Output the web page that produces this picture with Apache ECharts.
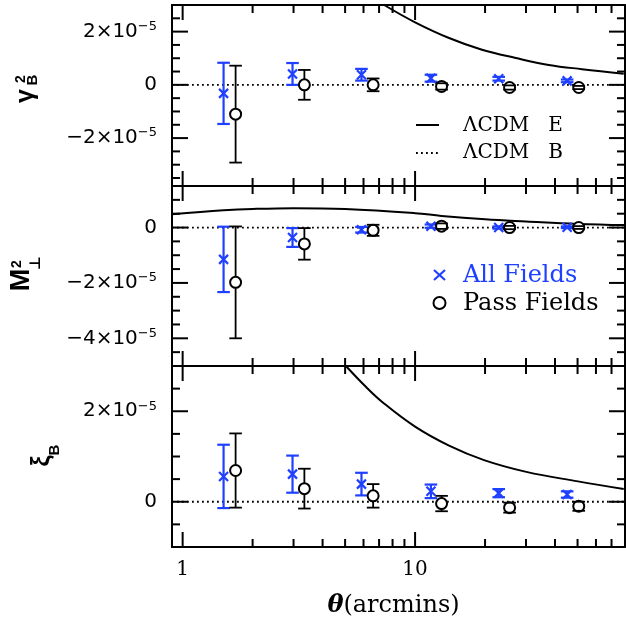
<!DOCTYPE html>
<html><head><meta charset="utf-8">
<script src="https://cdn.jsdelivr.net/npm/echarts@6/dist/echarts.min.js"></script>
<style>html,body{margin:0;padding:0;background:#fff}#c{width:626px;height:627px}</style>
</head><body><div id="c"></div>
<script>
// ---------------- data ----------------
const thetaAll  = [1.50, 2.97, 5.88, 11.7, 22.9, 45.1];
const thetaPass = [1.69, 3.34, 6.60, 13.0, 25.5, 50.6];

const gammaAll     = [-0.32e-5, 0.41e-5, 0.38e-5, 0.25e-5, 0.23e-5, 0.15e-5];
const gammaAllErr  = [ 1.15e-5, 0.41e-5, 0.22e-5, 0.13e-5, 0.07e-5, 0.05e-5];
const gammaPass    = [-1.10e-5, 0.00,    0.00,   -0.06e-5,-0.10e-5,-0.10e-5];
const gammaPassErr = [ 1.82e-5, 0.56e-5, 0.24e-5, 0.12e-5, 0.08e-5, 0.06e-5];

const mapAll     = [-1.15e-5,-0.36e-5,-0.08e-5, 0.05e-5, 0.00, 0.01e-5];
const mapAllErr  = [ 1.18e-5, 0.34e-5, 0.10e-5, 0.06e-5, 0.04e-5, 0.03e-5];
const mapPass    = [-1.98e-5,-0.59e-5,-0.10e-5, 0.05e-5, 0.00, 0.00];
const mapPassErr = [ 2.02e-5, 0.57e-5, 0.20e-5, 0.10e-5, 0.06e-5, 0.05e-5];

const xiAll     = [0.56e-5, 0.61e-5, 0.39e-5, 0.23e-5, 0.19e-5, 0.16e-5];
const xiAllErr  = [0.70e-5, 0.41e-5, 0.25e-5, 0.15e-5, 0.09e-5, 0.07e-5];
const xiPass    = [0.69e-5, 0.29e-5, 0.13e-5,-0.04e-5,-0.13e-5,-0.10e-5];
const xiPassErr = [0.82e-5, 0.44e-5, 0.26e-5, 0.17e-5, 0.11e-5, 0.10e-5];

// LCDM E-mode model curves
const gammaModelTheta = [7.36, 10, 14.0, 19.4, 27.1, 37.6, 52.2, 79];
const gammaModel      = [3.0e-5, 2.35e-5, 1.76e-5, 1.32e-5, 1.01e-5, 0.75e-5, 0.59e-5, 0.42e-5];
const mapModelTheta = [0.9, 1.5, 2, 3, 5, 10, 13, 20, 30, 50, 80];
const mapModel      = [0.48e-5, 0.62e-5, 0.67e-5, 0.70e-5, 0.67e-5, 0.52e-5, 0.42e-5, 0.30e-5, 0.22e-5, 0.13e-5, 0.09e-5];
const xiModelTheta = [5.04, 6.14, 7.24, 10, 14, 19.8, 30.1, 50.2, 79];
const xiModel      = [3.0e-5, 2.54e-5, 2.2e-5, 1.66e-5, 1.24e-5, 0.92e-5, 0.66e-5, 0.45e-5, 0.28e-5];
// LCDM B-mode model (zero)
const bModelTheta = [0.9, 80];
const bModel      = [0, 0];

// axis ticks
const xMajorTicks = [1, 10];
const xTickLabels = ['1', '10'];
const xMinorTicks = [2, 3, 4, 5, 6, 7, 8, 9, 20, 30, 40, 50, 60, 70];

const gammaTicks      = [-2e-5, 0, 2e-5];
const gammaTickLabels = ['−2×10⁻⁵', '0', '2×10⁻⁵'];
const gammaMinor      = [-3.5e-5, -3e-5, -2.5e-5, -1.5e-5, -1e-5, -0.5e-5, 0.5e-5, 1e-5, 1.5e-5, 2.5e-5];
const mapTicks      = [-4e-5, -2e-5, 0];
const mapTickLabels = ['−4×10⁻⁵', '−2×10⁻⁵', '0'];
const mapMinor      = [-4.5e-5, -3.5e-5, -3e-5, -2.5e-5, -1.5e-5, -1e-5, -0.5e-5, 0.5e-5, 1e-5];
const xiTicks      = [0, 2e-5];
const xiTickLabels = ['0', '2×10⁻⁵'];
const xiMinor      = [-0.5e-5, 0.5e-5, 1e-5, 1.5e-5, 2.5e-5];

// ---------------- chart ----------------
const BLUE = '#1f40ff';
const SUPS = '⁰¹²³⁴⁵⁶⁷⁸⁹';
function richSci(s) {
  const m = s.match(/^(.*?)([⁻⁰¹²³⁴⁵⁶⁷⁸⁹]+)$/);
  if (!m) return '{m|' + s + '}';
  const sup = m[2].replace(/⁻/g, '−').replace(/[⁰¹²³⁴⁵⁶⁷⁸⁹]/g, c => String(SUPS.indexOf(c)));
  return '{m|' + m[1] + '}{s|' + sup + '}';
}
function labelFor(v, vals, labels) {
  let best = -1, bd = Infinity;
  vals.forEach((t, i) => { const d = Math.abs(t - v); if (d < bd) { bd = d; best = i; } });
  return bd < 1e-9 ? richSci(labels[best]) : '';
}
const richY = {
  m: { fontFamily: 'DejaVu Sans', fontSize: 20, color: '#000', lineHeight: 23 },
  s: { fontFamily: 'DejaVu Sans', fontSize: 13, color: '#000', lineHeight: 12, verticalAlign: 'top' }
};

const grids = [
  { left: 172, top: 5,   width: 453, height: 181 },
  { left: 172, top: 186, width: 453, height: 180 },
  { left: 172, top: 366, width: 453, height: 181 }
];
const yRanges = [[-3.8e-5, 3.0e-5], [-5.0e-5, 1.5e-5], [-1.0e-5, 3.0e-5]];
const yTickSets = [[gammaTicks, gammaTickLabels], [mapTicks, mapTickLabels], [xiTicks, xiTickLabels]];
const yMinorSets = [gammaMinor, mapMinor, xiMinor];

const axisLine = { show: true, onZero: false, lineStyle: { color: '#000', width: 2 } };
const serif = 'DejaVu Serif';
const xAxes = [], yAxes = [];
grids.forEach((g, i) => {
  xAxes.push({
    type: 'log', logBase: 10, gridIndex: i, position: 'bottom', min: 0.9, max: 80,
    axisLine, axisTick: { show: false }, splitLine: { show: false },
    axisLabel: i === 2 ? {
      show: true, margin: 13, color: '#000', fontFamily: serif, fontSize: 20,
      showMinLabel: false, showMaxLabel: false,
      formatter: v => { const k = xMajorTicks.findIndex(t => Math.abs(t - v) < 1e-6 * t); return k >= 0 ? xTickLabels[k] : ''; }
    } : { show: false },
    name: i === 2 ? '{t|θ}{r|(arcmins)}' : '',
    nameLocation: 'middle', nameGap: 47,
    nameTextStyle: {
      padding: [0, 10, 0, 0],
      rich: {
        t: { fontFamily: serif, fontStyle: 'italic', fontWeight: 'bold', fontSize: 24, color: '#000' },
        r: { fontFamily: serif, fontSize: 24, color: '#000' }
      }
    }
  });
  xAxes.push({
    type: 'log', logBase: 10, gridIndex: i, position: 'top', min: 0.9, max: 80,
    axisLine, axisTick: { show: false }, splitLine: { show: false }, axisLabel: { show: false }
  });
  const [tv, tl] = yTickSets[i];
  yAxes.push({
    type: 'value', gridIndex: i, position: 'left', min: yRanges[i][0], max: yRanges[i][1],
    axisLine, axisTick: { show: false }, splitLine: { show: false },
    axisLabel: { show: true, margin: 15, customValues: tv, formatter: v => labelFor(v, tv, tl), rich: richY }
  });
  yAxes.push({
    type: 'value', gridIndex: i, position: 'right', min: yRanges[i][0], max: yRanges[i][1],
    axisLine, axisTick: { show: false }, splitLine: { show: false }, axisLabel: { show: false }
  });
});

function lineEl(x1, y1, x2, y2, stroke, lw) {
  return { type: 'line', shape: { x1, y1, x2, y2 }, style: { stroke, lineWidth: lw } };
}
function tickSeries(i) {
  const data = [];
  xMajorTicks.forEach(v => data.push([v, 0, 0]));
  xMinorTicks.forEach(v => data.push([v, 0, 1]));
  yTickSets[i][0].forEach(v => data.push([1, v, 2]));
  yMinorSets[i].forEach(v => data.push([1, v, 3]));
  return {
    type: 'custom', xAxisIndex: 2 * i, yAxisIndex: 2 * i, silent: true, z: 6, data,
    encode: { x: 0, y: 1 },
    renderItem(params, api) {
      const cs = params.coordSys;
      const kind = api.value(2);
      const p = api.coord([api.value(0), api.value(1)]);
      if (kind < 2) {
        const len = kind === 0 ? 15 : 8;
        return { type: 'group', children: [
          lineEl(p[0], cs.y, p[0], cs.y + len, '#000', 2),
          lineEl(p[0], cs.y + cs.height, p[0], cs.y + cs.height - len, '#000', 2)] };
      }
      const len = kind === 2 ? 16 : 8;
      return { type: 'group', children: [
        lineEl(cs.x, p[1], cs.x + len, p[1], '#000', 2),
        lineEl(cs.x + cs.width, p[1], cs.x + cs.width - len, p[1], '#000', 2)] };
    }
  };
}
function errSeries(i, xs, ys, es, color, lw, skipR, z) {
  return {
    type: 'custom', xAxisIndex: 2 * i, yAxisIndex: 2 * i, silent: true, z,
    data: xs.map((x, k) => [x, ys[k], es[k]]),
    encode: { x: 0, y: 1 },
    renderItem(params, api) {
      const x = api.value(0), y = api.value(1), e = api.value(2);
      const c = api.coord([x, y]), t = api.coord([x, y + e]), b = api.coord([x, y - e]);
      const hw = 6.3, ch = [];
      if (skipR) {
        if (c[1] - t[1] > skipR) ch.push(lineEl(c[0], t[1], c[0], c[1] - skipR, color, lw));
        if (b[1] - c[1] > skipR) ch.push(lineEl(c[0], c[1] + skipR, c[0], b[1], color, lw));
      } else {
        ch.push(lineEl(c[0], t[1], c[0], b[1], color, lw));
      }
      ch.push(lineEl(c[0] - hw, t[1], c[0] + hw, t[1], color, lw));
      ch.push(lineEl(c[0] - hw, b[1], c[0] + hw, b[1], color, lw));
      return { type: 'group', children: ch };
    }
  };
}
function crossSeries(i, xs, ys) {
  return {
    type: 'scatter', xAxisIndex: 2 * i, yAxisIndex: 2 * i, silent: true, z: 4,
    symbol: 'path://M0,0L10,10M10,0L0,10', symbolSize: 9,
    itemStyle: { color: 'rgba(0,0,0,0)', borderColor: BLUE, borderWidth: 2.2, opacity: 1 },
    data: xs.map((x, k) => [x, ys[k]])
  };
}
function circleSeries(i, xs, ys) {
  return {
    type: 'scatter', xAxisIndex: 2 * i, yAxisIndex: 2 * i, silent: true, z: 3,
    symbol: 'emptyCircle', symbolSize: 11,
    itemStyle: { color: '#000', borderWidth: 1.8, opacity: 1 },
    data: xs.map((x, k) => [x, ys[k]])
  };
}
function curveSeries(i, xs, ys, dotted) {
  return {
    type: 'line', xAxisIndex: 2 * i, yAxisIndex: 2 * i, silent: true, z: 2,
    symbol: 'none', smooth: dotted ? false : 0.4, clip: true,
    lineStyle: dotted ? { color: '#000', width: 1.8, type: [1.8, 3.2] } : { color: '#000', width: 2 },
    data: xs.map((x, k) => [x, ys[k]])
  };
}

const panels = [
  [gammaAll, gammaAllErr, gammaPass, gammaPassErr, gammaModelTheta, gammaModel],
  [mapAll, mapAllErr, mapPass, mapPassErr, mapModelTheta, mapModel],
  [xiAll, xiAllErr, xiPass, xiPassErr, xiModelTheta, xiModel]
];
const series = [];
panels.forEach((p, i) => {
  series.push(curveSeries(i, bModelTheta, bModel, true));
  series.push(curveSeries(i, p[4], p[5], false));
  series.push(errSeries(i, thetaAll, p[0], p[1], BLUE, 2.2, 0, 3));
  series.push(crossSeries(i, thetaAll, p[0]));
  series.push(circleSeries(i, thetaPass, p[2]));
  series.push(errSeries(i, thetaPass, p[2], p[3], '#000', 1.8, 5.5, 4));
  series.push(tickSeries(i));
});

const lblFont = '"Liberation Sans", "DejaVu Sans", sans-serif';
function rotText(text, x, y, size) {
  return { type: 'text', x, y, rotation: Math.PI / 2,
    style: { text, fontFamily: lblFont, fontWeight: 'bold', fontSize: size, fill: '#000', align: 'center', verticalAlign: 'middle' } };
}
const graphic = [
  // y axis titles
  rotText('γ', 26, 96, 25), rotText('2', 21, 79, 14), rotText('B', 33, 80, 15),
  rotText('M', 22, 280, 27), rotText('2', 17, 264, 14), rotText('⊥', 36, 263, 15),
  rotText('ξ', 42, 461, 25), rotText('B', 55, 450, 15),
  // legend: models
  { type: 'line', shape: { x1: 416, y1: 125, x2: 439, y2: 125 }, style: { stroke: '#000', lineWidth: 2 } },
  { type: 'text', x: 463, y: 126, style: { text: 'ΛCDM   E', fontFamily: serif, fontSize: 20, fill: '#000', verticalAlign: 'middle' } },
  { type: 'line', shape: { x1: 416, y1: 153, x2: 438, y2: 153 }, style: { stroke: '#000', lineWidth: 1.8, lineDash: [1.8, 3.2] } },
  { type: 'text', x: 463, y: 153, style: { text: 'ΛCDM   B', fontFamily: serif, fontSize: 20, fill: '#000', verticalAlign: 'middle' } },
  // legend: data
  { type: 'line', shape: { x1: 434, y1: 270, x2: 445, y2: 280 }, style: { stroke: BLUE, lineWidth: 2.2 } },
  { type: 'line', shape: { x1: 445, y1: 270, x2: 434, y2: 280 }, style: { stroke: BLUE, lineWidth: 2.2 } },
  { type: 'text', x: 463, y: 276, style: { text: 'All Fields', fontFamily: serif, fontSize: 24, fill: BLUE, verticalAlign: 'middle' } },
  { type: 'circle', shape: { cx: 439.5, cy: 303, r: 6 }, style: { stroke: '#000', lineWidth: 2, fill: 'none' } },
  { type: 'text', x: 463, y: 304, style: { text: 'Pass Fields', fontFamily: serif, fontSize: 24, fill: '#000', verticalAlign: 'middle' } }
];

const chart = echarts.init(document.getElementById('c'), null, { renderer: 'canvas' });
chart.setOption({
  animation: false,
  backgroundColor: '#fff',
  grid: grids,
  xAxis: xAxes,
  yAxis: yAxes,
  series,
  graphic
});
</script></body></html>
